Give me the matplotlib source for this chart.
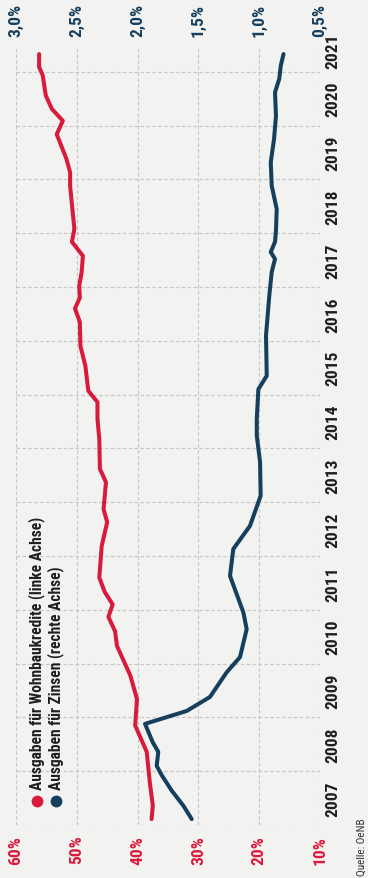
import matplotlib
matplotlib.use("Agg")
import matplotlib.pyplot as plt
from matplotlib import font_manager as fm
from matplotlib.ticker import FixedLocator, NullFormatter

installed = {f.name for f in fm.fontManager.ttflist}
families = [n for n in ["Liberation Sans Narrow", "Roboto Condensed", "DejaVu Sans"] if n in installed]
plt.rcParams["font.family"] = families

# ---- data -------------------------------------------------------------
years = list(range(2007, 2022))
left_ticks = [60, 50, 40, 30, 20, 10]
right_ticks = [3.0, 2.5, 2.0, 1.5, 1.0, 0.5]

# Ausgaben für Wohnbaukredite, % (linke Achse)
kredit_t = [2007.11, 2007.36, 2007.80, 2008.36, 2008.85, 2009.34, 2009.78, 2010.33,
            2010.60, 2010.87, 2011.10, 2011.33, 2011.60, 2012.19, 2012.63, 2012.87,
            2013.37, 2013.62, 2014.17, 2014.55, 2014.86, 2015.07, 2015.54, 2015.90,
            2016.35, 2016.60, 2016.80, 2017.02, 2017.28, 2017.58, 2017.84, 2018.08,
            2018.88, 2019.13, 2019.38, 2019.84, 2020.09, 2020.31, 2020.56, 2020.93,
            2021.09, 2021.33]
kredit_v = [37.7, 37.5, 38.0, 38.5, 40.4, 40.1, 41.2, 43.4,
            43.7, 44.8, 44.1, 45.4, 46.3, 45.9, 45.0, 45.6,
            45.2, 46.2, 46.3, 46.6, 46.6, 48.1, 48.6, 49.4,
            49.5, 50.3, 49.5, 49.6, 49.2, 49.0, 50.8, 50.4,
            51.1, 51.1, 51.7, 53.3, 52.3, 54.1, 55.1, 55.6,
            56.2, 56.2]

# Ausgaben für Zinsen, % (rechte Achse)
zins_t = [2007.11, 2007.36, 2007.64, 2007.92, 2008.10, 2008.36, 2008.54, 2008.88,
          2009.12, 2009.38, 2009.84, 2010.12, 2010.64, 2010.95, 2011.63, 2012.13,
          2012.56, 2013.12, 2013.75, 2014.24, 2014.55, 2015.10, 2015.35, 2016.10,
          2016.84, 2017.28, 2017.52, 2017.65, 2017.84, 2018.05, 2018.45, 2018.88,
          2019.32, 2019.75, 2020.18, 2020.62, 2020.87, 2021.11, 2021.33]
zins_v = [1.555, 1.624, 1.720, 1.800, 1.843, 1.830, 1.876, 1.939,
          1.596, 1.405, 1.267, 1.158, 1.103, 1.130, 1.240, 1.213,
          1.076, 0.988, 0.993, 1.020, 1.020, 1.007, 0.938, 0.944,
          0.917, 0.897, 0.870, 0.905, 0.870, 0.862, 0.856, 0.897,
          0.905, 0.878, 0.862, 0.870, 0.835, 0.823, 0.800]

legend_labels = ["Ausgaben für Wohnbaukredite (linke Achse)",
                 "Ausgaben für Zinsen (rechte Achse)"]
source = "Quelle: OeNB"

# ---- style ------------------------------------------------------------
RED = "#d81b3c"
BLUE = "#163f5e"
GRID = "#c6c6c6"
BG = "#f2f2f0"
TEXT = "#1f1f1f"

W, H = 368, 879
fig = plt.figure(figsize=(W / 100, H / 100), dpi=100, facecolor=BG)
ax = fig.add_axes([16 / W, 53 / H, 304 / W, 779 / H])
ax.set_facecolor(BG)
for s in ax.spines.values():
    s.set_visible(False)

ax.set_xlim(60, 10)
top = 2021.48
ax.set_ylim(2007, top)

# percentage axis (left axis of the chart), labels along the bottom
ax.set_xticks(left_ticks, [f"{v}%" for v in left_ticks])
ax.tick_params(axis="x", length=0, pad=7, labelcolor=RED, labelsize=12.5)
for lbl in ax.get_xticklabels():
    lbl.set_rotation(90)
    lbl.set_fontweight("bold")
    lbl.set_ha("center")
    lbl.set_va("top")

# years: grid at year boundaries, labels centred in each year band
ax.yaxis.set_major_locator(FixedLocator(years))
ax.yaxis.set_major_formatter(NullFormatter())
year_pos = [min(y + 0.5, top - 0.08) for y in years]
ax.set_yticks(year_pos, [str(y) for y in years], minor=True)
ax.tick_params(axis="y", which="both", length=0, left=False, right=True,
               labelleft=False, labelright=True, pad=4, labelsize=12.5,
               labelcolor=TEXT)
for lbl in ax.get_yticklabels(minor=True):
    lbl.set_rotation(90)
    lbl.set_fontweight("bold")
    lbl.set_ha("left")
    lbl.set_va("center")

ax.grid(True, which="major", color=GRID, linestyle=(0, (3, 2)), linewidth=0.85)
ax.set_axisbelow(True)

# interest axis (right axis of the chart), labels along the top
ax2 = ax.twiny()
for s in ax2.spines.values():
    s.set_visible(False)
ax2.set_xlim(3.0, 0.5)
ax2.set_xticks(right_ticks, [f"{v:.1f}%".replace(".", ",") for v in right_ticks])
ax2.tick_params(axis="x", length=0, pad=7, labelcolor=BLUE, labelsize=12.5)
for lbl in ax2.get_xticklabels():
    lbl.set_rotation(90)
    lbl.set_fontweight("bold")
    lbl.set_ha("center")
    lbl.set_va("bottom")

ax.plot(kredit_v, kredit_t, color=RED, lw=2.9,
        solid_capstyle="round", solid_joinstyle="round", zorder=3)
ax2.plot(zins_v, zins_t, color=BLUE, lw=2.9,
         solid_capstyle="round", solid_joinstyle="round", zorder=3)

# legend
for x, col, label in zip([0.069, 0.1316], [RED, BLUE], legend_labels):
    ax.plot([x], [0.0308], "o", ms=7.5, color=col, transform=ax.transAxes,
            clip_on=False, zorder=4)
    ax.text(x, 0.046, label, rotation=90, ha="center", va="bottom",
            transform=ax.transAxes, fontsize=11.2, fontweight="bold",
            color=TEXT, zorder=4)

fig.text(362 / W, 3 / H, source, rotation=90, ha="center", va="bottom",
         fontsize=8, color="#333333")

fig.savefig("out.png", dpi=100, facecolor=BG)
